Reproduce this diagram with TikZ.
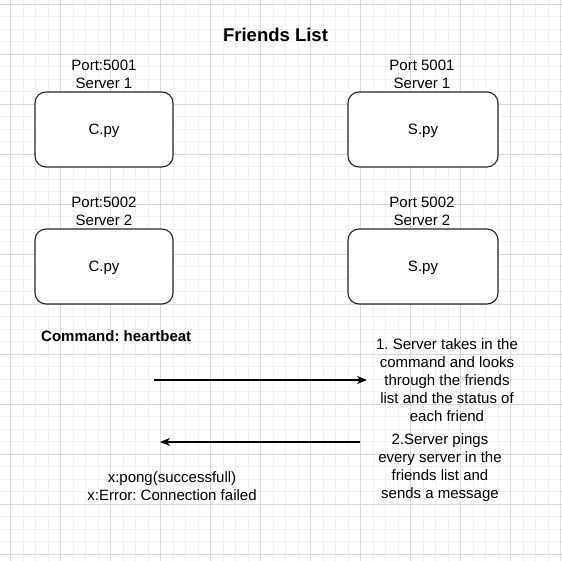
\documentclass[tikz,border=0pt]{standalone}
\usepackage{fontspec}
\setmainfont{Liberation Sans}
\usetikzlibrary{arrows.meta}
\definecolor{gridminor}{HTML}{F1F1F1}
\definecolor{gridmajor}{HTML}{DADADA}
\tikzset{
  box/.style={draw=black!85, line width=1.1pt, rounded corners=11pt, fill=white,
              minimum width=138pt, minimum height=75pt, inner sep=0pt,
              font=\fontsize{15}{18}\selectfont},
  lbl/.style={align=center, inner sep=0pt, font=\fontsize{15}{18}\selectfont},
  boldlbl/.style={align=center, inner sep=0pt, font=\bfseries\fontsize{15}{18}\selectfont},
  flow/.style={line width=1.1pt, -{Stealth[length=10pt,width=8pt,inset=3pt]}},
}
\frenchspacing
\begin{document}
\frenchspacing
\begin{tikzpicture}[x=1pt,y=-1pt]
\useasboundingbox (0,0) rectangle (562,561);
\fill[white] (0,0) rectangle (562,561);
% grid
\foreach \k in {0,...,44} {
  \draw[gridminor, line width=0.8pt] (10.5+12.5*\k,0) -- (10.5+12.5*\k,561);
  \draw[gridminor, line width=0.8pt] (0,4+12.5*\k) -- (562,4+12.5*\k);
}
\foreach \k in {0,...,11} {
  \draw[gridmajor, line width=0.8pt] (10.5+50*\k,0) -- (10.5+50*\k,561);
  \draw[gridmajor, line width=0.8pt] (0,4+50*\k) -- (562,4+50*\k);
}
% title
\node[inner sep=0pt, font=\bfseries\fontsize{18.5}{22}\selectfont] (title) at (275.5,35) {Friends List};
% boxes
\node[box] (c1) at (104,129.5) {};
\node[box, minimum width=150pt] (s1) at (423,129.5) {};
\node[box] (c2) at (104,266.5) {};
\node[box, minimum width=150pt] (s2) at (423,266.5) {};
\node[lbl] (c1t) at ([yshift=-1.5pt]c1.center) {C.py};
\node[lbl] (s1t) at ([yshift=-1.5pt]s1.center) {S.py};
\node[lbl] (c2t) at ([yshift=-1.5pt]c2.center) {C.py};
\node[lbl] (s2t) at ([yshift=-1.5pt]s2.center) {S.py};
% port labels
\node[lbl] (pc1) at (104,74) {Port:5001\\Server 1};
\node[lbl] (ps1) at (422,74) {Port 5001\\Server 1};
\node[lbl] (pc2) at (104,211) {Port:5002\\Server 2};
\node[lbl] (ps2) at (422,211) {Port 5002\\Server 2};
% command
\node[boldlbl, anchor=west] (cmd) at (41,336) {Command: heartbeat};
% step texts
\node[lbl] (t1) at (447,380.5) {1. Server takes in the\\command and looks\\through the friends\\list and the status of\\each friend};
\node[lbl] (t2) at (440,467.5) {2.Server pings\\every server in the\\friends list and\\sends a message};
\node[lbl] (res) at (172,486) {x:pong(successfull)\\x:Error: Connection failed};
% arrows
\coordinate (a1s) at (154,380);
\coordinate (a1e) at (367,380);
\coordinate (a2s) at (360,442);
\coordinate (a2e) at (160,442);
\draw[flow] (a1s) -- (a1e);
\draw[flow] (a2s) -- (a2e);
\end{tikzpicture}
\end{document}
